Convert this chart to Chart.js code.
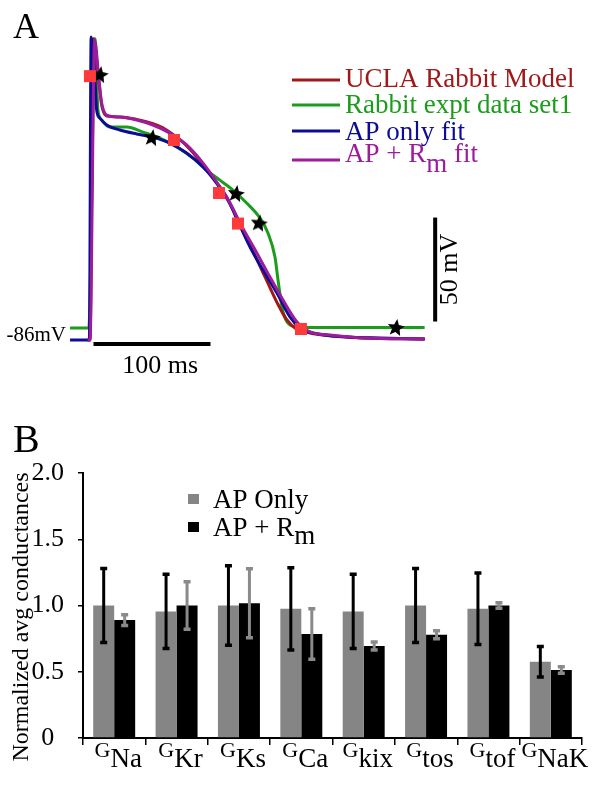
<!DOCTYPE html>
<html>
<head>
<meta charset="utf-8">
<script src="https://cdn.jsdelivr.net/npm/chart.js@4.4.0/dist/chart.umd.min.js"></script>
<style>
  html, body { margin: 0; padding: 0; background: #fff; }
  #wrap { position: relative; width: 610px; height: 787px; }
  canvas { position: absolute; left: 0; }
  #apChart { top: 0; }
  #barChart { top: 400px; }
</style>
</head>
<body>
<div id="wrap">
  <canvas id="apChart" width="610" height="400"></canvas>
  <canvas id="barChart" width="610" height="387"></canvas>
</div>
<script>
// ---- Panel A: action potentials (time in ms, voltage in mV) ----
const uclaT = [-2, 0, 3, 7.7, 10, 14.3, 25.6, 39.9, 53.8, 62, 72, 82.6, 96.6, 108.3, 119.7, 128.2, 140, 150, 160, 168, 176, 188, 205, 233, 286];
const uclaV = [-88.9, -88.9, 56, 35, 24, 18.8, 18.4, 17.2, 15.2, 13.3, 9.5, 4.5, -4.5, -13.5, -23.5, -33, -47, -59, -71, -79, -83.5, -85.5, -86.8, -87.9, -88.4];

const exptT = [-17, -1, 4.3, 6.0, 6.8, 10.0, 17.1, 31.4, 45.3, 59.8, 74.1, 88.0, 99.7, 111.1, 122.2, 133.9, 145.3, 152.1, 158.1, 160.7, 164.1, 168.4, 176.9, 190.6, 286];
const exptV = [-83.1, -83.1, 56, 31.3, 21.7, 16.9, 13.5, 13.5, 11.1, 8.2, 3.9, -1.4, -7.2, -12.0, -16.8, -23.0, -30.2, -37.4, -49.0, -60.0, -73.0, -80.2, -82.6, -82.9, -82.9];

const apFitT = [-17, -0.5, 1, 4.3, 5.7, 8.5, 14.3, 25.6, 39.9, 53.8, 68.4, 82.6, 96.6, 108.3, 116.8, 125.4, 136.8, 147.9, 159.8, 170.9, 179.5, 190.6, 219.7, 247.9, 286];
const apFitV = [-88.9, -88.9, 56.8, 36.1, 21.7, 17.8, 14.5, 12.1, 10.2, 8.7, 5.8, 1.0, -5.7, -13.4, -20.1, -30.5, -44.2, -55.2, -66.3, -77.8, -83.1, -85.5, -87.4, -87.9, -88.4];

const apRmFitT = [-2, 0, 4, 7.7, 10.0, 14.3, 25.6, 39.9, 53.8, 68.4, 82.6, 96.6, 108.3, 119.7, 128.2, 142.7, 153.8, 165.0, 176.9, 188.0, 205.1, 233.3, 286];
const apRmFitV = [-88.9, -88.9, 55.3, 36.1, 25.1, 19.3, 18.3, 16.9, 14.5, 10.6, 4.9, -3.8, -12.9, -23.0, -32.6, -47.1, -58.6, -69.7, -80.2, -85.0, -86.5, -87.9, -88.4];

const squareT = [0, 71.8, 110.3, 126.5, 180.3];
const squareV = [38.0, 7.3, -18.2, -32.9, -83.6];
const starT = [8.5, 53.0, 124.8, 144.4, 261.5];
const starV = [38.5, 8.2, -18.7, -32.9, -83.1];

// scale bars: 100 ms and 50 mV
const timeBarT = [3, 103];
const timeBarV = [-90.8, -90.8];
const voltBarT = [295, 295];
const voltBarV = [-80, -30];

const traceLabels = ['UCLA Rabbit Model', 'Rabbit expt data set1', 'AP only fit', 'AP + R_{m} fit'];

// ---- Panel B: normalized conductances ----
const conductanceLabels = ['G_{Na}', 'G_{Kr}', 'G_{Ks}', 'G_{Ca}', 'G_{kix}', 'G_{tos}', 'G_{tof}', 'G_{NaK}'];
const apOnlyMean = [1.00, 0.955, 1.00, 0.975, 0.955, 1.00, 0.975, 0.576];
const apOnlyErr  = [0.28, 0.28, 0.30, 0.31, 0.28, 0.28, 0.27, 0.115];
const apRmMean   = [0.89, 1.00, 1.017, 0.785, 0.694, 0.78, 1.00, 0.513];
const apRmErr    = [0.04, 0.18, 0.26, 0.19, 0.03, 0.03, 0.02, 0.025];
const barLabels  = ['AP Only', 'AP + R_{m}'];

const SERIF = "'Liberation Serif', 'Times New Roman', serif";
Chart.defaults.font.family = SERIF;

function zip(xs, ys) {
  return xs.map((x, i) => ({ x: x, y: ys[i] }));
}

// split "AP + R_{m}" into normal / subscript pieces
function parseSub(str) {
  const parts = [];
  const re = /_\{([^}]*)\}/g;
  let last = 0, m;
  while ((m = re.exec(str))) {
    if (m.index > last) parts.push({ text: str.slice(last, m.index), sub: false });
    parts.push({ text: m[1], sub: true });
    last = re.lastIndex;
  }
  if (last < str.length) parts.push({ text: str.slice(last), sub: false });
  return parts;
}

function drawRich(ctx, str, x, y, o) {
  const parts = parseSub(str);
  const fontFor = p => (p.sub ? o.subSize : o.size) + 'px ' + SERIF;
  ctx.save();
  ctx.fillStyle = o.color;
  ctx.textAlign = 'left';
  ctx.textBaseline = 'alphabetic';
  let w = 0;
  parts.forEach(p => { ctx.font = fontFor(p); w += ctx.measureText(p.text).width; });
  let cx = o.align === 'center' ? x - w / 2 : (o.align === 'right' ? x - w : x);
  parts.forEach(p => {
    ctx.font = fontFor(p);
    ctx.fillText(p.text, cx, y + (p.sub ? o.subDy : 0));
    cx += ctx.measureText(p.text).width;
  });
  ctx.restore();
}

function starImage(r) {
  const c = document.createElement('canvas');
  const s = Math.ceil(r * 2 + 2);
  c.width = c.height = s;
  const g = c.getContext('2d');
  g.fillStyle = '#000';
  g.beginPath();
  for (let i = 0; i < 10; i++) {
    const rad = i % 2 ? r * 0.45 : r;
    const a = -Math.PI / 2 + 0.15 + i * Math.PI / 5;
    g.lineTo(s / 2 + rad * Math.cos(a), s / 2 + rad * Math.sin(a));
  }
  g.closePath();
  g.fill();
  return c;
}

const traceColors = ['#a01818', '#1c9c1c', '#0c0c96', '#9c1c9c'];
const traceData = [zip(uclaT, uclaV), zip(exptT, exptV), zip(apFitT, apFitV), zip(apRmFitT, apRmFitV)];
const traceOrder = [4, 5, 3, 2];

const apDatasets = traceLabels.map((lab, i) => ({
  label: lab,
  data: traceData[i],
  borderColor: traceColors[i],
  borderWidth: 3,
  pointRadius: 0,
  cubicInterpolationMode: 'monotone',
  fill: false,
  order: traceOrder[i]
}));

apDatasets.push({
  label: 'markers', data: zip(squareT, squareV), showLine: false,
  pointStyle: 'rect', pointRadius: 8.5, backgroundColor: '#ff3a3a', borderWidth: 0, order: 0
});
apDatasets.push({
  label: 'stars', data: zip(starT, starV), showLine: false,
  pointStyle: starImage(9), pointRadius: 9, order: 1
});
apDatasets.push({
  label: 'time bar', data: zip(timeBarT, timeBarV), borderColor: '#000', borderWidth: 4, pointRadius: 0, order: 6
});
apDatasets.push({
  label: 'volt bar', data: zip(voltBarT, voltBarV), borderColor: '#000', borderWidth: 4, pointRadius: 0, order: 6
});

const apDecor = {
  id: 'apDecor',
  afterDraw(chart) {
    const ctx = chart.ctx;
    const xs = chart.scales.x, ys = chart.scales.y;
    ctx.save();
    ctx.fillStyle = '#000';
    ctx.font = '36px ' + SERIF;
    ctx.textBaseline = 'alphabetic';
    ctx.fillText('A', 13, 38);

    // legend
    const lineY = [80, 105, 131, 160];
    const textY = [87, 113, 140, 162];
    traceLabels.forEach((lab, i) => {
      ctx.strokeStyle = traceColors[i];
      ctx.lineWidth = 3;
      ctx.beginPath();
      ctx.moveTo(292, lineY[i]);
      ctx.lineTo(340, lineY[i]);
      ctx.stroke();
      drawRich(ctx, lab, 345, textY[i], { size: 27, subSize: 27, subDy: 10, align: 'left', color: traceColors[i] });
    });

    // resting potential label
    drawRich(ctx, '-86mV', 66, ys.getPixelForValue(-86) + 7, { size: 21, subSize: 21, subDy: 0, align: 'right', color: '#000' });
    // scale bar labels
    drawRich(ctx, '100 ms', xs.getPixelForValue(60), ys.getPixelForValue(timeBarV[0]) + 29, { size: 26, subSize: 26, subDy: 0, align: 'center', color: '#000' });
    ctx.translate(xs.getPixelForValue(voltBarT[0]) + 22, ys.getPixelForValue((voltBarV[0] + voltBarV[1]) / 2));
    ctx.rotate(-Math.PI / 2);
    drawRich(ctx, '50 mV', 0, 0, { size: 26, subSize: 26, subDy: 0, align: 'center', color: '#000' });
    ctx.restore();
  }
};

new Chart(document.getElementById('apChart'), {
  type: 'line',
  data: { datasets: apDatasets },
  options: {
    responsive: false,
    animation: false,
    layout: { padding: { left: 60, right: 165, top: 20, bottom: 40 } },
    plugins: { legend: { display: false }, tooltip: { enabled: false } },
    scales: {
      x: { type: 'linear', display: false, min: -25.6, max: 303.4 },
      y: { type: 'linear', display: false, min: -98.5, max: 65 }
    }
  },
  plugins: [apDecor]
});

// ---- Panel B ----
const barDecor = {
  id: 'barDecor',
  afterDatasetsDraw(chart) {
    const ctx = chart.ctx, ys = chart.scales.y;
    chart.data.datasets.forEach((ds, di) => {
      const meta = chart.getDatasetMeta(di);
      meta.data.forEach((bar, i) => {
        const v = ds.data[i], e = ds.err[i];
        const yTop = ys.getPixelForValue(v + e);
        const yBot = ys.getPixelForValue(v - e);
        ctx.save();
        ctx.strokeStyle = ds.errColor;
        ctx.lineWidth = 3;
        ctx.beginPath();
        ctx.moveTo(bar.x, yTop);
        ctx.lineTo(bar.x, yBot);
        ctx.stroke();
        ctx.lineWidth = 3.5;
        ctx.beginPath();
        ctx.moveTo(bar.x - 3.5, yTop); ctx.lineTo(bar.x + 3.5, yTop);
        ctx.moveTo(bar.x - 3.5, yBot); ctx.lineTo(bar.x + 3.5, yBot);
        ctx.stroke();
        ctx.restore();
      });
    });
  },
  afterDraw(chart) {
    const ctx = chart.ctx, xs = chart.scales.x;
    ctx.save();
    ctx.fillStyle = '#000';
    ctx.font = '40px ' + SERIF;
    ctx.fillText('B', 13, 52);

    // category labels with subscripts
    conductanceLabels.forEach((lab, i) => {
      drawRich(ctx, lab, xs.getPixelForValue(i) + 4, 357, { size: 22, subSize: 27, subDy: 10, align: 'center', color: '#000' });
    });

    // legend
    const sq = [94, 122];
    chart.data.datasets.forEach((ds, i) => {
      ctx.fillStyle = ds.backgroundColor;
      ctx.fillRect(188, sq[i], 11, 10);
      drawRich(ctx, barLabels[i], 213, sq[i] + 14, { size: 27, subSize: 27, subDy: 8, align: 'left', color: '#000' });
    });

    // y axis title
    ctx.translate(28, 217);
    ctx.rotate(-Math.PI / 2);
    drawRich(ctx, 'Normalized avg conductances', 0, 0, { size: 24, subSize: 24, subDy: 0, align: 'center', color: '#000' });
    ctx.restore();
  }
};

new Chart(document.getElementById('barChart'), {
  type: 'bar',
  data: {
    labels: conductanceLabels,
    datasets: [
      { label: barLabels[0], data: apOnlyMean, err: apOnlyErr, backgroundColor: '#858585', errColor: '#000' },
      { label: barLabels[1], data: apRmMean, err: apRmErr, backgroundColor: '#000', errColor: '#8a8a8a' }
    ]
  },
  options: {
    responsive: false,
    animation: false,
    layout: { padding: { left: 0, right: 28, top: 73, bottom: 0 } },
    datasets: { bar: { categoryPercentage: 0.673, barPercentage: 1.0, borderWidth: 0 } },
    plugins: { legend: { display: false }, tooltip: { enabled: false } },
    scales: {
      x: {
        grid: { drawOnChartArea: false, drawTicks: true, tickLength: 7, color: '#000', lineWidth: 1.5, offset: true },
        border: { display: true, color: '#000', width: 2 },
        ticks: { display: false },
        afterFit: s => { s.height = 49; }
      },
      y: {
        min: 0, max: 2,
        ticks: {
          stepSize: 0.5, color: '#000', padding: 14, crossAlign: 'center',
          font: { family: SERIF, size: 26 },
          callback: v => v === 0 ? '0' : v.toFixed(1)
        },
        grid: { drawOnChartArea: false, tickLength: 5, color: '#000', lineWidth: 1.5 },
        border: { display: true, color: '#000', width: 2 },
        afterFit: s => { s.width = 83; }
      }
    }
  },
  plugins: [barDecor]
});
</script>
</body>
</html>
